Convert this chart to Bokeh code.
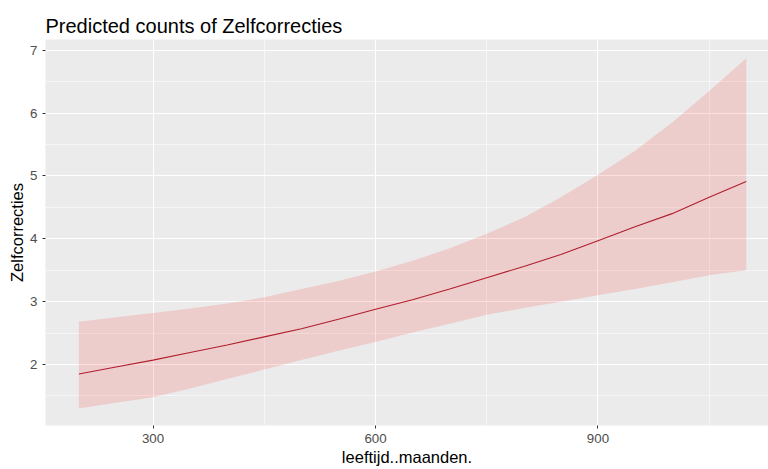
from bokeh.plotting import figure
from bokeh.models import FixedTicker, Range1d, ColumnDataSource
from bokeh.embed import file_html
from bokeh.resources import INLINE

# Predicted counts with confidence band, by age in months
leeftijd = [200, 250, 300, 350, 400, 450, 500, 550, 600, 650,
            700, 750, 800, 850, 900, 950, 1000, 1050, 1100]
predicted = [1.85, 1.96, 2.07, 2.19, 2.31, 2.44, 2.57, 2.72, 2.88, 3.03,
             3.20, 3.38, 3.56, 3.75, 3.97, 4.19, 4.40, 4.66, 4.91]
conf_high = [2.68, 2.75, 2.82, 2.89, 2.97, 3.07, 3.20, 3.33, 3.48, 3.65,
             3.85, 4.08, 4.34, 4.66, 5.02, 5.40, 5.85, 6.35, 6.87]
conf_low = [1.30, 1.39, 1.48, 1.62, 1.77, 1.92, 2.07, 2.22, 2.36, 2.51,
            2.65, 2.79, 2.90, 3.00, 3.10, 3.20, 3.31, 3.42, 3.50]

x_ticks = [300, 600, 900]
x_minor = [150, 450, 750, 1050]
y_ticks = [2, 3, 4, 5, 6, 7]
y_minor = [1.5, 2.5, 3.5, 4.5, 5.5, 6.5]

src = ColumnDataSource(dict(x=leeftijd, y=predicted, lo=conf_low, hi=conf_high))

FONT = "Liberation Sans"

p = figure(width=768, height=469, output_backend="svg", toolbar_location=None,
           x_range=Range1d(155, 1130), y_range=Range1d(1.03, 7.17),
           title="Predicted counts of Zelfcorrecties",
           min_border_left=45, min_border_right=0,
           min_border_top=39, min_border_bottom=44)

p.background_fill_color = "#EBEBEB"
p.border_fill_color = "white"
p.outline_line_color = None

p.title.text_font = FONT
p.title.text_font_size = "20px"
p.title.text_font_style = "normal"
p.title.text_color = "black"
p.title.align = "left"
p.title.standoff = 5

p.varea(x="x", y1="lo", y2="hi", source=src, fill_color="#FF0000", fill_alpha=0.13)
p.line(x="x", y="y", source=src, line_color="#B01E2C", line_width=1.1)

p.xaxis.ticker = FixedTicker(ticks=x_ticks, minor_ticks=x_minor)
p.yaxis.ticker = FixedTicker(ticks=y_ticks, minor_ticks=y_minor)

for ax in (p.xaxis[0], p.yaxis[0]):
    ax.axis_line_color = None
    ax.major_tick_line_color = "#333333"
    ax.major_tick_out = 3
    ax.major_tick_in = 0
    ax.minor_tick_line_color = None
    ax.major_label_text_font = FONT
    ax.major_label_text_font_size = "13.3px"
    ax.major_label_text_color = "#4D4D4D"
    ax.axis_label_text_font = FONT
    ax.axis_label_text_font_size = "16.5px"
    ax.axis_label_text_font_style = "normal"
    ax.axis_label_text_color = "black"

p.xaxis.axis_label = "leeftijd..maanden."
p.yaxis.axis_label = "Zelfcorrecties"
p.xaxis.major_label_standoff = 4
p.yaxis.major_label_standoff = 4
p.xaxis.axis_label_standoff = 2
p.yaxis.axis_label_standoff = 1

for g in (p.xgrid[0], p.ygrid[0]):
    g.grid_line_color = "white"
    g.grid_line_width = 1.1
    g.minor_grid_line_color = "white"
    g.minor_grid_line_width = 0.55

open("out.html", "w").write(file_html(p, INLINE))
